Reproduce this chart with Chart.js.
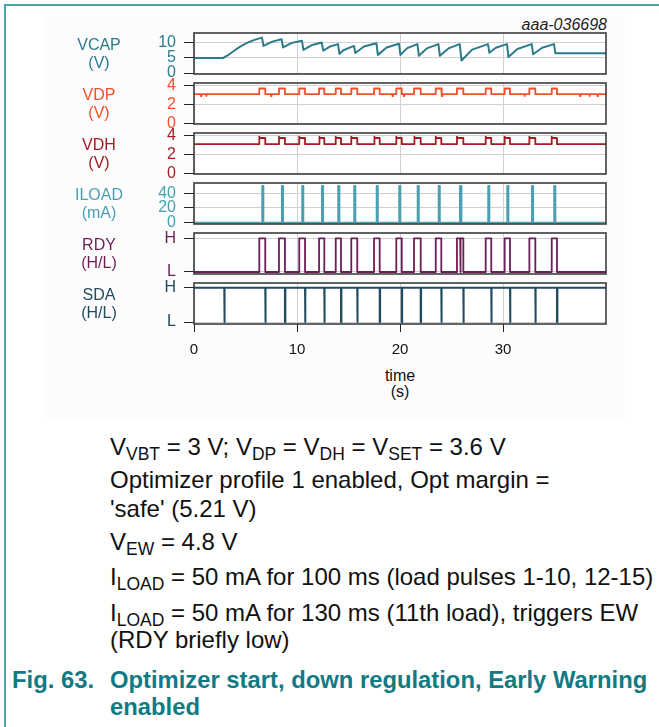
<!DOCTYPE html>
<html><head><meta charset="utf-8">
<script src="https://cdn.jsdelivr.net/npm/chart.js@4.4.1/dist/chart.umd.min.js"></script>
<style>
html,body{margin:0;padding:0;}
body{width:659px;height:727px;background:#fff;position:relative;overflow:hidden;font-family:"Liberation Sans",Arial,sans-serif;color:#111;}
.abs{position:absolute;}
#topline{left:5px;top:4px;width:654px;height:2px;background:#4f9ea8;}
#leftline{left:4px;top:4px;width:2px;height:723px;background:#4f9ea8;}
#figbox{left:45px;top:15px;width:580px;height:403px;background:#fcfcfc;}
.pnl{position:absolute;left:0;width:659px;}
.lab{position:absolute;left:49px;width:100px;text-align:center;font-size:16px;line-height:17.5px;white-space:nowrap;}
.txt{position:absolute;left:110px;font-size:24px;line-height:28px;white-space:nowrap;color:#111;}
.txt sub{font-size:17.5px;vertical-align:-5px;line-height:0;}
.cap{position:absolute;font-size:23.8px;line-height:28px;font-weight:bold;color:#127a84;white-space:nowrap;}
</style>
</head><body>
<div id="figbox" class="abs"></div>
<div id="topline" class="abs"></div>
<div id="leftline" class="abs"></div>
<div class="abs" style="right:52px;top:17px;font-size:16px;line-height:16px;font-style:italic;color:#222;">aaa-036698</div>

<div class="pnl" id="w0"><canvas id="c0"></canvas></div>
<div class="pnl" id="w1"><canvas id="c1"></canvas></div>
<div class="pnl" id="w2"><canvas id="c2"></canvas></div>
<div class="pnl" id="w3"><canvas id="c3"></canvas></div>
<div class="pnl" id="w4"><canvas id="c4"></canvas></div>
<div class="pnl" id="w5"><canvas id="c5"></canvas></div>

<div class="lab" style="top:36px;color:#2b7b8c;">VCAP<br>(V)</div>
<div class="lab" style="top:86px;color:#f0502a;">VDP<br>(V)</div>
<div class="lab" style="top:136px;color:#a11d24;">VDH<br>(V)</div>
<div class="lab" style="top:186px;color:#4aa0b2;">ILOAD<br>(mA)</div>
<div class="lab" style="top:236px;color:#6e1e56;">RDY<br>(H/L)</div>
<div class="lab" style="top:286px;color:#234b5f;">SDA<br>(H/L)</div>

<div class="abs" style="left:360px;width:80px;top:368px;text-align:center;font-size:16px;line-height:16px;color:#111;">time<br>(s)</div>

<div class="txt" style="top:433px;">V<sub>VBT</sub> = 3 V; V<sub>DP</sub> = V<sub>DH</sub> = V<sub>SET</sub> = 3.6 V</div>
<div class="txt" style="top:466px;">Optimizer profile 1 enabled, Opt margin =</div>
<div class="txt" style="top:494.5px;">'safe' (5.21 V)</div>
<div class="txt" style="top:528px;">V<sub>EW</sub> = 4.8 V</div>
<div class="txt" style="top:563px;">I<sub>LOAD</sub> = 50 mA for 100 ms (load pulses 1-10, 12-15)</div>
<div class="txt" style="top:599px;">I<sub>LOAD</sub> = 50 mA for 130 ms (11th load), triggers EW</div>
<div class="txt" style="top:626px;">(RDY briefly low)</div>
<div class="cap" style="left:12px;top:666px;">Fig. 63.</div>
<div class="cap" style="left:110px;top:666px;">Optimizer start, down regulation, Early Warning</div>
<div class="cap" style="left:110px;top:693px;">enabled</div>

<script>
// ---------------- data ----------------
const timeTicks = [0, 10, 20, 30];

// VCAP (V): [time s, volts]
const vcapPoints = [
  [0,4.9],[2.85,4.9],[3.3,5.8],[3.8,7.0],[4.4,8.4],[5.1,9.7],[5.8,10.7],[6.6,11.5],
  [6.75,8.8],[7.6,10.2],[8.5,11.0],
  [8.65,8.3],[9.5,9.8],[10.48,10.5],
  [10.62,7.5],[11.4,9.0],[12.4,9.9],
  [12.55,7.3],[13.2,8.6],[13.98,9.4],
  [14.12,6.2],[14.5,7.4],[15.53,8.8],
  [15.67,6.5],[16.5,8.6],[17.71,9.7],
  [17.85,5.9],[18.7,8.3],[19.9,9.5],
  [20.04,5.9],[20.7,8.1],[21.69,9.4],
  [21.83,5.6],[22.6,8.0],[23.73,9.4],
  [23.87,5.6],[24.7,8.0],[25.8,9.4],
  [25.97,4.1],[27.0,7.6],[28.54,9.4],
  [28.68,6.6],[29.3,8.2],[30.39,9.4],
  [30.53,5.2],[31.4,7.8],[32.79,9.4],
  [32.93,6.1],[33.8,8.2],[34.95,9.4],
  [35.09,6.4],[40,6.4]
];

// Load pulses (ILOAD, mA)
const loadTimes  = [6.63,8.54,10.51,12.43,14.01,15.56,17.74,19.93,21.72,23.76,25.83,28.57,30.42,32.82,34.98];
const loadWidths = [0.10,0.10,0.10,0.10,0.10,0.10,0.10,0.10,0.10,0.10,0.13,0.10,0.10,0.10,0.10];
const loadLevel = 50;

// RDY high intervals (H = 1, L = 0)
const rdyRise = [6.34,8.25,10.22,12.14,13.76,15.27,17.48,19.64,21.36,23.47,25.53,28.32,30.16,32.56,34.73];
const rdyFall = [6.92,8.83,10.78,12.65,14.27,15.85,18.03,20.17,22.01,24.01,26.15,28.86,30.68,33.14,35.24];
const rdyEwLow = [25.84, 25.90];   // brief low during 11th load (Early Warning)

// SDA low pulses (H = 1, L = 0)
const sdaTimes = [2.94,6.92,8.83,10.78,12.65,14.27,15.85,18.03,20.17,22.01,24.01,26.15,28.86,30.68,33.14,35.24];
const sdaWidth = 0.04;

// VDP / VDH levels (V)
const vdpLevels = {low: 3.1, high: 3.7, dip: 2.9};
const vdpDips = [0.7,1.2,7.5,19.3,20.4,24.1,32.1,37.5,38.4,39.2];
const vdhLevels = {low: 3.1, high: 3.75, peak: 3.9};

const yTickSets = {
  vcap: [0,5,10], vdp: [0,2,4], vdh: [0,2,4], iload: [0,20,40], rdy: [0,1], sda: [0,1]
};
const hlLabels = ['L','H'];

// ---------------- series construction ----------------
function vcapSeries(){ return vcapPoints.map(([x,y])=>({x,y})); }

function vdpSeries(){
  const ev = [];
  rdyRise.forEach((r,i)=>ev.push({t:r, kind:'pulse', end:rdyFall[i]}));
  vdpDips.forEach(t=>ev.push({t, kind:'dip'}));
  ev.sort((a,b)=>a.t-b.t);
  const L=vdpLevels.low, H=vdpLevels.high, D=vdpLevels.dip;
  const p=[{x:0,y:L}];
  ev.forEach(e=>{
    if(e.kind==='pulse'){ p.push({x:e.t,y:L},{x:e.t,y:H},{x:e.end,y:H},{x:e.end,y:L}); }
    else { p.push({x:e.t-0.03,y:L},{x:e.t-0.03,y:D},{x:e.t+0.03,y:D},{x:e.t+0.03,y:L}); }
  });
  p.push({x:40,y:L});
  return p;
}
function vdhSeries(){
  const L=vdhLevels.low, H=vdhLevels.high, P=vdhLevels.peak;
  const p=[{x:0,y:L}];
  rdyRise.forEach((r,i)=>{
    p.push({x:r,y:L},{x:r,y:P},{x:r+0.08,y:H},{x:rdyFall[i],y:H},{x:rdyFall[i],y:L});
  });
  p.push({x:40,y:L});
  return p;
}
function iloadSeries(){
  const p=[{x:0,y:0}];
  loadTimes.forEach((t,i)=>{
    const e=t+loadWidths[i];
    p.push({x:t,y:0},{x:t,y:loadLevel},{x:e,y:loadLevel},{x:e,y:0});
  });
  p.push({x:40,y:0});
  return p;
}
function rdySeries(){
  const p=[{x:0,y:0}];
  rdyRise.forEach((r,i)=>{
    p.push({x:r,y:0},{x:r,y:1});
    if(rdyEwLow[0]>r && rdyEwLow[1]<rdyFall[i]){
      p.push({x:rdyEwLow[0],y:1},{x:rdyEwLow[0],y:0},{x:rdyEwLow[1],y:0},{x:rdyEwLow[1],y:1});
    }
    p.push({x:rdyFall[i],y:1},{x:rdyFall[i],y:0});
  });
  p.push({x:40,y:0});
  return p;
}
function sdaSeries(){
  const p=[{x:0,y:1}];
  sdaTimes.forEach(t=>{
    p.push({x:t,y:1},{x:t,y:0},{x:t+sdaWidth,y:0},{x:t+sdaWidth,y:1});
  });
  p.push({x:40,y:1});
  return p;
}

// ---------------- charts ----------------
const FONT = '"Liberation Sans", Arial, sans-serif';
const framePlugin = {
  id:'frame',
  beforeDraw(c){ const a=c.chartArea, x=c.ctx; x.save(); x.fillStyle='#fff'; x.fillRect(a.left,a.top,a.right-a.left,a.bottom-a.top); x.restore(); },
  afterDraw(c){ const a=c.chartArea, x=c.ctx; x.save(); x.strokeStyle='#3c3c3c'; x.lineWidth=1.6; x.strokeRect(a.left,a.top,a.right-a.left,a.bottom-a.top); x.restore(); }
};

const panels = [
  {key:'vcap', top:33, min:-0.3, max:13, color:'#2b7b8c', data:vcapSeries(), lw:2},
  {key:'vdp',  top:83, min:-0.05, max:4.28, color:'#f0502a', data:vdpSeries(), lw:1.8},
  {key:'vdh',  top:133, min:-0.05, max:4.28, color:'#a11d24', data:vdhSeries(), lw:1.8},
  {key:'iload',top:183, min:-1.8, max:54, color:'#4aa0b2', data:iloadSeries(), lw:2},
  {key:'rdy',  top:233, min:-0.06, max:1.157, color:'#6e1e56', data:rdySeries(), lw:1.8},
  {key:'sda',  top:283, min:-0.058, max:1.137, color:'#234b5f', data:sdaSeries(), lw:2}
];
const PAD = 12, AREA_H = 41, XAXIS_H = 34;

panels.forEach((p,i)=>{
  const last = i===panels.length-1;
  const wrap = document.getElementById('w'+i);
  const cv = document.getElementById('c'+i);
  const h = PAD + AREA_H + (last ? XAXIS_H : PAD);
  wrap.style.top = (p.top-PAD)+'px';
  wrap.style.height = h+'px';
  cv.width = 659; cv.height = h;
  cv.style.width='659px'; cv.style.height=h+'px';
  const yt = yTickSets[p.key];
  new Chart(cv, {
    type:'line',
    data:{datasets:[{data:p.data, borderColor:p.color, borderWidth:p.lw, borderJoinStyle:'round', borderCapStyle:'round', pointRadius:0, tension:0, fill:false}]},
    options:{
      responsive:false, animation:false, maintainAspectRatio:false,
      parsing:false, normalized:true,
      layout:{autoPadding:false, padding:{left:0,right:53,top:PAD,bottom:last?0:PAD}},
      plugins:{legend:{display:false}, tooltip:{enabled:false}},
      scales:{
        x:{type:'linear', min:0, max:40,
           afterBuildTicks:s=>{ s.ticks = timeTicks.map(v=>({value:v})); },
           afterFit:s=>{ s.height = last ? XAXIS_H : 0; s.paddingLeft=0; s.paddingRight=0; s.paddingTop=0; s.paddingBottom=0; },
           grid:{color:'#d0d0d0', lineWidth:1, drawTicks:last, tickLength:8, tickColor:'#222'},
           border:{display:false},
           ticks:{display:last, autoSkip:false, color:'#111', padding:9, maxRotation:0, font:{size:15, family:FONT}}
        },
        y:{type:'linear', min:p.min, max:p.max,
           afterBuildTicks:s=>{ s.ticks = yt.map(v=>({value:v})); },
           afterFit:s=>{ s.width = 194; s.paddingTop=0; s.paddingBottom=0; s.paddingLeft=0; s.paddingRight=0; },
           grid:{color:'#d0d0d0', lineWidth:1, drawTicks:true, tickLength:10, tickColor:'#222'},
           border:{display:false},
           ticks:{autoSkip:false, color:p.color, padding:8, font:{size:16, family:FONT},
                  callback:(v)=> (p.key==='rdy'||p.key==='sda') ? hlLabels[v] : String(v)}
        }
      }
    },
    plugins:[framePlugin]
  });
});
</script>
</body></html>
